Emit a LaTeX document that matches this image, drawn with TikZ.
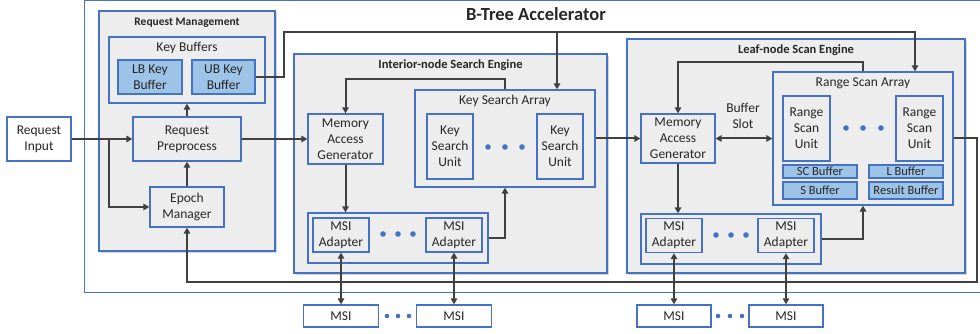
\documentclass[tikz,border=0pt]{standalone}
\usepackage{fontspec}
\setmainfont{Carlito}
\usetikzlibrary{arrows.meta,shadows}
\definecolor{boxblue}{HTML}{4472C4}
\definecolor{boxgray}{HTML}{EDEDED}
\definecolor{buffill}{HTML}{9DC3E6}
\definecolor{wiregray}{HTML}{404040}
\definecolor{txtgray}{HTML}{262626}
\begin{document}
\begin{tikzpicture}[x=1pt,y=-1pt,
  every node/.style={font=\fontsize{13.5}{16}\selectfont, text=txtgray},
  wh/.style 2 args={minimum width=#1pt, minimum height=#2pt},
  blk/.style={draw=boxblue, line width=1.3pt, fill=boxgray, align=center, inner sep=0pt},
  ext/.style={blk, fill=white},
  buf/.style={blk, fill=buffill},
  grp/.style={blk, drop shadow={shadow xshift=2pt, shadow yshift=-2pt, opacity=0.35}},
  ttl/.style={label={[anchor=center, yshift=-12pt, font=\bfseries\fontsize{12.5}{14}\selectfont]north:#1}},
  sub/.style={label={[anchor=center, yshift=-12pt]north:#1}},
  small/.style={font=\fontsize{12.5}{13}\selectfont},
  arr/.style={draw=wiregray, line width=2pt, -{Triangle[length=6pt, width=6.5pt]}},
  biarr/.style={draw=wiregray, line width=2pt, {Triangle[length=6pt, width=6.5pt]}-{Triangle[length=6pt, width=6.5pt]}},
  dot/.style={fill=boxblue}]
\useasboundingbox (0,0) rectangle (980,334);
\draw[boxblue, line width=1pt] (84,1) rectangle (990,292);
\node[font=\bfseries\fontsize{18.5}{20}\selectfont] (acc) at (536,14) {B-Tree Accelerator};

\node[ext, wh={64}{44}] (reqin) at (39,139) {Request\\Input};

\node[grp, wh={176}{240}, label={[anchor=center, yshift=-12pt, font=\bfseries\fontsize{11.5}{13}\selectfont]north:Request Management}] (reqmgmt) at (187,131) {};
\node[blk, wh={156}{66}, sub={Key Buffers}] (keybuf) at (187,70) {};
\node[buf, wh={64}{34}] (lbkey) at (150,77) {LB Key\\Buffer};
\node[buf, wh={63}{34}] (ubkey) at (223.5,77) {UB Key\\Buffer};
\node[blk, wh={108}{44}] (reqpre) at (187,139) {Request\\Preprocess};
\node[blk, wh={74}{40}] (epoch) at (187,207) {Epoch\\Manager};

\node[grp, wh={313}{219}, ttl={Interior-node Search Engine}] (iseng) at (450.5,163.5) {};
\node[blk, wh={75}{50}] (imag) at (345.5,139) {Memory\\Access\\Generator};
\node[blk, wh={180}{97}, sub={Key Search Array}] (ksa) at (505,138.5) {};
\node[blk, wh={46}{65}] (ksu1) at (450,146.5) {Key\\Search\\Unit};
\node[blk, wh={46}{65}] (ksu2) at (560,146.5) {Key\\Search\\Unit};
\node[blk, wh={180}{50}] (imsiarr) at (398,238) {};
\node[blk, wh={56}{34}] (imsia1) at (341,235) {MSI\\Adapter};
\node[blk, wh={56}{34}] (imsia2) at (454,235) {MSI\\Adapter};

\node[grp, wh={338}{234}, ttl={Leaf-node Scan Engine}] (lseng) at (796,156) {};
\node[blk, wh={74}{49}] (lmag) at (678,138.5) {Memory\\Access\\Generator};
\node[blk, wh={180}{133}, sub={Range Scan Array}] (rsa) at (863,138.5) {};
\node[blk, wh={47}{65}] (rsu1) at (806.5,128.5) {Range\\Scan\\Unit};
\node[blk, wh={47}{65}] (rsu2) at (919.5,128.5) {Range\\Scan\\Unit};
\node[buf, small, wh={74}{13}] (scbuf) at (820,171.5) {SC Buffer};
\node[buf, small, wh={74}{17}] (sbuf) at (820,190.5) {S Buffer};
\node[buf, small, wh={74}{13}] (lbuf) at (906,171.5) {L Buffer};
\node[buf, small, wh={74}{17}] (resbuf) at (906,190.5) {Result Buffer};
\node[blk, wh={180}{50}] (lmsiarr) at (731,239) {};
\node[blk, wh={56}{34}] (lmsia1) at (674,235.5) {MSI\\Adapter};
\node[blk, wh={56}{34}] (lmsia2) at (786,235.5) {MSI\\Adapter};
\node[align=center] (bslot) at (743,116) {Buffer\\Slot};

\node[ext, wh={75}{22}] (imem1) at (341,316) {MSI};
\node[ext, wh={75}{22}] (imem2) at (454,316) {MSI};
\node[ext, wh={74}{22}] (lmem1) at (674,316) {MSI};
\node[ext, wh={74}{22}] (lmem2) at (786,316) {MSI};

\foreach \x in {488,505,522} \fill[dot] (\x,147) circle (2.8pt);
\foreach \x in {383,398,413} \fill[dot] (\x,234) circle (2.8pt);
\foreach \x in {846,863,881} \fill[dot] (\x,128) circle (2.8pt);
\foreach \x in {716,731,746} \fill[dot] (\x,235) circle (2.8pt);
\foreach \x in {387,398,409} \fill[dot] (\x,316) circle (2.3pt);
\foreach \x in {718,730,742} \fill[dot] (\x,316) circle (2.3pt);

\coordinate (split) at (109,139);
\coordinate (busl) at (284,32);
\coordinate (busm) at (557,32);
\coordinate (busr) at (915,32);
\coordinate (fb) at (977,282);

\draw[arr] (reqin.east) -- (reqpre.west);
\draw[arr] (split) |- (epoch.west);
\draw[arr] (epoch.north) -- (reqpre.south);
\draw[arr] (reqpre.north) -- (keybuf.south);
\draw[arr] (ubkey.east) -| (busl) -| (busr |- rsa.north);
\draw[arr] (busm) -- (busm |- ksa.north);
\draw[arr] (reqpre.east) -- (imag.west);
\draw[arr] (imag.south) -- (imag.south |- imsiarr.north);
\draw[arr] (imsiarr.east) -| (ksa.south);
\draw[arr] (ksa.north) -- ++(0,-10) -| (imag.north);
\draw[arr] (ksa.east) -- (lmag.west);
\draw[arr] (lmag.south) -- (lmag.south |- lmsiarr.north);
\draw[arr] (lmsiarr.east) -| (rsa.south);
\draw[arr] (rsa.north) -- ++(0,-9) -| (lmag.north);
\draw[biarr] (lmag.east) -- (rsa.west);
\draw[arr] (rsa.east) -| (fb) -| (epoch.south);
\draw[biarr] (imsia1.south) -- (imem1.north);
\draw[biarr] (imsia2.south) -- (imem2.north);
\draw[biarr] (lmsia1.south) -- (lmem1.north);
\draw[biarr] (lmsia2.south) -- (lmem2.north);
\end{tikzpicture}
\end{document}
